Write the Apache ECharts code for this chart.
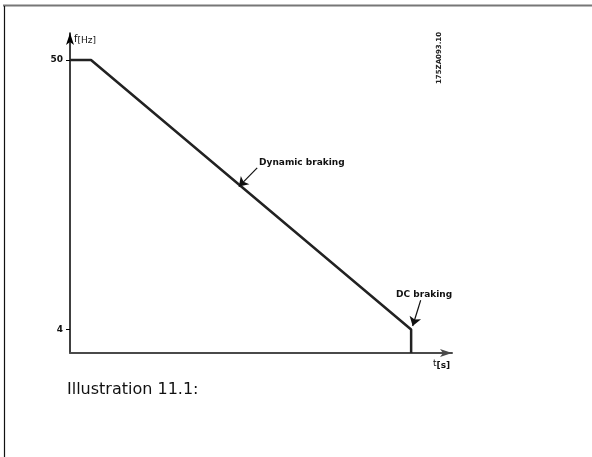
<!DOCTYPE html>
<html>
<head>
<meta charset="utf-8">
<script src="https://cdn.jsdelivr.net/npm/echarts@6/dist/echarts.min.js"></script>
<style>
  html, body { margin: 0; padding: 0; background: #fff; }
  #chart { width: 592px; height: 457px; }
</style>
</head>
<body>
<div id="chart"></div>
<script>
// braking profile: time (arbitrary seconds) vs output frequency
var timeS = [0, 0.55, 8.93, 8.93];
var freqHz = [50, 50, 4, 0];
var yTicks = [4, 50];
// annotations: [label, arrow tail x, tail y, arrow head x, head y]
var notes = [
  ["Dynamic braking", 4.9, 31.6, 4.42, 28.4],
  ["DC braking", 9.18, 9.0, 8.97, 4.6]
];

var chart = echarts.init(document.getElementById("chart"));
var font = "DejaVu Sans";

var option = {
  animation: false,
  grid: { left: 70, right: 140, top: 33, bottom: 104 },
  xAxis: {
    type: "value",
    min: 0,
    max: 10,
    name: "{a|t}{b|[s]}",
    nameLocation: "end",
    nameGap: -19,
    nameTextStyle: {
      align: "left",
      verticalAlign: "top",
      padding: [6, 0, 0, 0],
      rich: {
        a: { fontFamily: font, fontSize: 9, color: "#111", padding: [0, 0, 4, 0] },
        b: { fontFamily: font, fontSize: 9, fontWeight: "bold", color: "#111" }
      }
    },
    axisLine: {
      lineStyle: { color: "#4a4a4a", width: 2 },
      symbol: ["none", "arrow"],
      symbolSize: [6, 12]
    },
    axisTick: { show: false },
    axisLabel: { show: false },
    splitLine: { show: false }
  },
  yAxis: {
    type: "value",
    min: 0,
    max: 54.6,
    name: "{a|f}{b|[Hz]}",
    nameLocation: "end",
    nameGap: -15,
    nameTextStyle: {
      align: "left",
      padding: [0, 0, 0, 4],
      rich: {
        a: { fontFamily: font, fontSize: 10, color: "#111", padding: [0, 0, 4, 0] },
        b: { fontFamily: font, fontSize: 9, color: "#111" }
      }
    },
    axisLine: {
      lineStyle: { color: "#000", width: 1.5 },
      symbol: ["none", "arrow"],
      symbolSize: [6, 12]
    },
    axisTick: {
      customValues: yTicks,
      length: 4,
      lineStyle: { color: "#000", width: 1 }
    },
    axisLabel: {
      customValues: yTicks,
      fontFamily: font,
      fontSize: 9,
      fontWeight: "bold",
      color: "#111",
      margin: 7
    },
    splitLine: { show: false }
  },
  series: [
    {
      type: "line",
      data: timeS.map(function (t, i) { return [t, freqHz[i]]; }),
      symbol: "none",
      lineStyle: { color: "#222", width: 2.5 },
      markLine: {
        silent: true,
        symbol: ["none", "arrow"],
        symbolSize: 9,
        label: { show: false },
        lineStyle: { color: "#111", width: 1.2, type: "solid" },
        data: notes.map(function (n) {
          return [{ coord: [n[1], n[2]] }, { coord: [n[3], n[4]] }];
        })
      },
      markPoint: {
        silent: true,
        symbol: "circle",
        symbolSize: 0,
        data: [
          {
            coord: [4.95, 32.4],
            label: {
              show: true, position: "right", distance: 0,
              formatter: notes[0][0],
              fontFamily: font, fontSize: 9, fontWeight: "bold", color: "#111"
            }
          },
          {
            coord: [9.27, 9.9],
            label: {
              show: true, position: "inside",
              formatter: notes[1][0],
              fontFamily: font, fontSize: 9, fontWeight: "bold", color: "#111"
            }
          }
        ]
      }
    }
  ],
  graphic: [
    { type: "line", shape: { x1: 3, y1: 5.5, x2: 592, y2: 5.5 }, style: { stroke: "#777", lineWidth: 2 } },
    { type: "line", shape: { x1: 4.5, y1: 6, x2: 4.5, y2: 457 }, style: { stroke: "#111", lineWidth: 1.2 } },
    {
      type: "text", x: 439, y: 58, rotation: Math.PI / 2,
      style: {
        text: "175ZA093.10", fontFamily: font, fontSize: 7, fontWeight: "bold",
        fill: "#222", align: "center", verticalAlign: "middle"
      }
    },
    {
      type: "text", left: 67, top: 382,
      style: { text: "Illustration 11.1:", fontFamily: font, fontSize: 16, fill: "#111" }
    }
  ]
};

chart.setOption(option);
</script>
</body>
</html>
